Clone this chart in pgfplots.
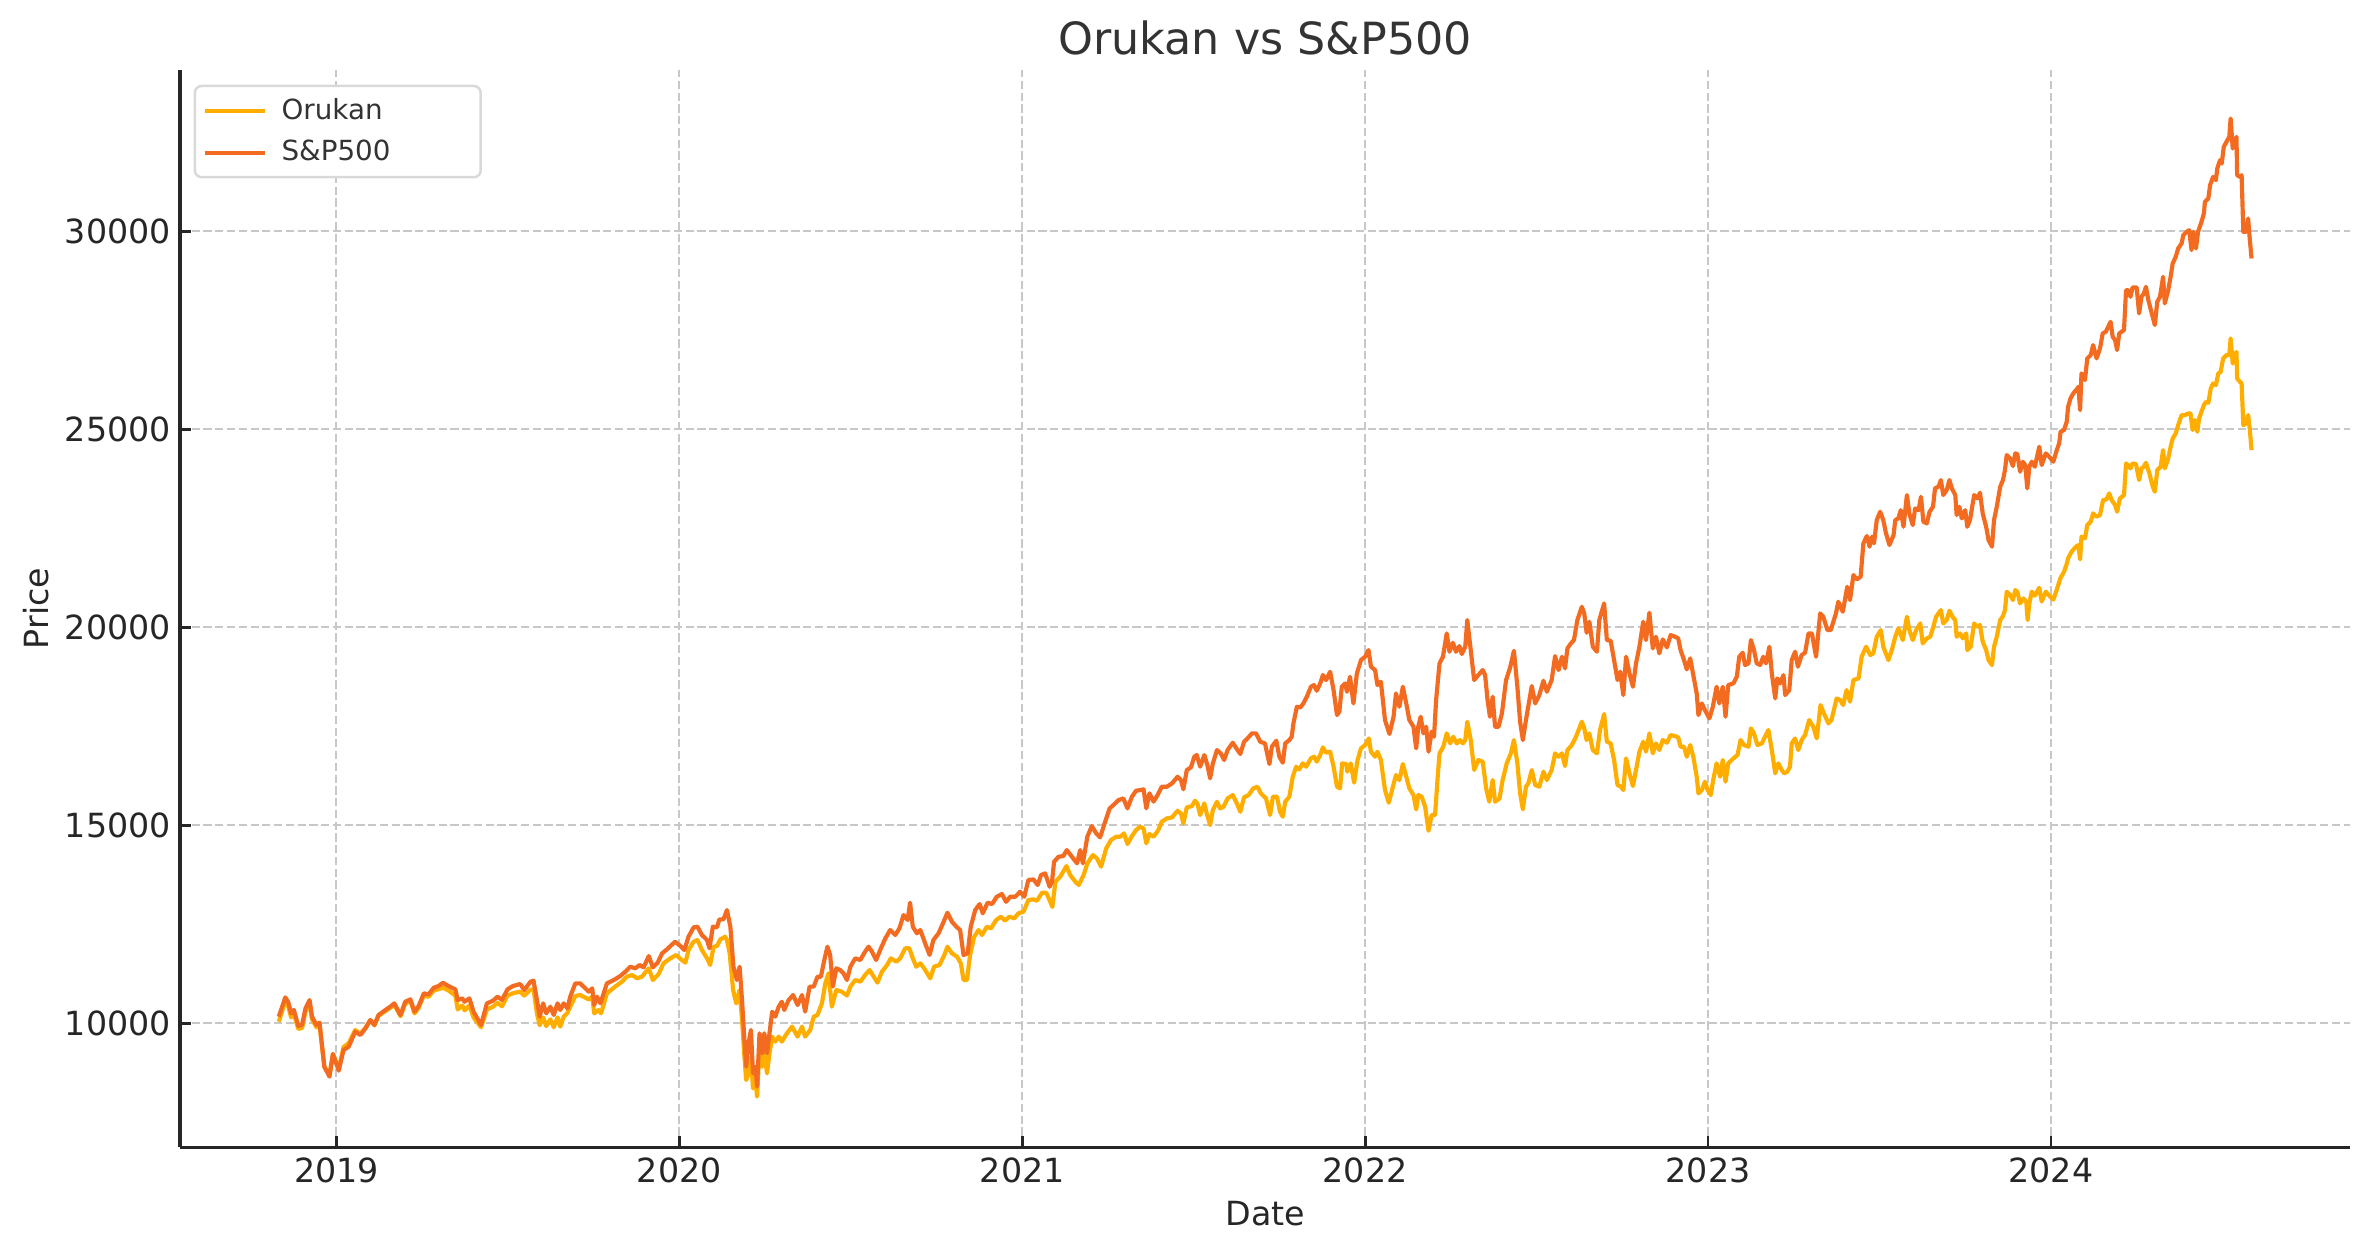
\documentclass[border=0pt]{standalone}
\usepackage{fontspec}
\setmainfont{DejaVu Sans}
\usepackage{pgfplots}
\pgfplotsset{compat=1.18}
\definecolor{orukan}{RGB}{255,174,0}
\definecolor{spx}{RGB}{243,107,33}
\definecolor{gridgray}{RGB}{200,200,200}
\definecolor{spine}{RGB}{38,38,38}
\definecolor{titlegray}{RGB}{51,51,51}
\begin{document}
\begin{tikzpicture}
\begin{axis}[
    name=ax,
    scale only axis,
    width=782.6pt, height=388.6pt,
    xmin=2018.544, xmax=2024.873,
    ymin=6870, ymax=34084,
    axis x line*=bottom, axis y line*=left,
    axis line style={spine, line width=1.1pt},
    xtick={2019,2020,2021,2022,2023,2024},
    ytick={10000,15000,20000,25000,30000},
    scaled y ticks=false,
    /pgf/number format/1000 sep={},
    /pgf/number format/assume math mode=true,
    tick align=inside,
    major tick length=4pt,
    tick style={spine, line width=1pt},
    ticklabel style={font=\fontsize{12}{14.4}\selectfont, text=spine},
    xticklabel style={anchor=center, yshift=-8.4pt},
    yticklabel style={anchor=east, inner xsep=0pt, xshift=-3.1pt},
    xmajorgrids, ymajorgrids,
    major grid style={gridgray, line width=0.8pt, dash pattern=on 2.96pt off 1.28pt},
    title={Orukan vs S\&P500},
    every axis title shift=0pt,
    title style={at={(axis description cs:0.5,1.0293)}, anchor=center, font=\fontsize{16}{19.2}\selectfont, text=titlegray},
    xlabel={Date},
    ylabel={Price},
    xlabel style={at={(axis description cs:0.5,-0.0618)}, anchor=center, font=\fontsize{12}{14.4}\selectfont, text=spine},
    ylabel style={at={(axis description cs:-0.0662,0.5)}, anchor=center, rotate=0, font=\fontsize{12}{14.4}\selectfont, text=spine},
    legend image code/.code={\draw[#1, line width=1.5pt] (0pt,0pt) -- (21.8pt,0pt);},
    legend cell align=left,
    legend style={at={(0,1)}, anchor=north west, xshift=4.9pt, yshift=-5.45pt,
        draw={rgb,255:red,217;green,217;blue,217}, line width=0.9pt, rounded corners=2.5pt,
        fill=white, font=\fontsize{10}{12}\selectfont, text=titlegray,
        inner xsep=2.8pt, inner ysep=2.4pt, row sep=2.1pt, column sep=3.2pt},
    every axis plot/.append style={line width=1.5pt, line join=round},
]
\addplot[orukan] table {
2018.832 10040
2018.837 10170
2018.851 10560
2018.860 10420
2018.868 10150
2018.876 10240
2018.889 9860
2018.900 9880
2018.910 10300
2018.922 10500
2018.929 10100
2018.942 9900
2018.951 9960
2018.965 8900
2018.980 8700
2018.990 9230
2019.007 8850
2019.021 9400
2019.036 9500
2019.055 9830
2019.070 9740
2019.085 9890
2019.099 10080
2019.111 9950
2019.123 10190
2019.143 10310
2019.157 10390
2019.169 10470
2019.187 10180
2019.201 10500
2019.216 10560
2019.228 10250
2019.240 10390
2019.255 10700
2019.269 10670
2019.284 10830
2019.298 10860
2019.311 10900
2019.327 10830
2019.347 10700
2019.354 10350
2019.367 10450
2019.374 10330
2019.388 10450
2019.400 10150
2019.422 9900
2019.439 10350
2019.457 10420
2019.470 10520
2019.483 10430
2019.499 10700
2019.515 10760
2019.536 10800
2019.548 10700
2019.566 10850
2019.575 10860
2019.585 10250
2019.593 9950
2019.603 10150
2019.612 9930
2019.624 10100
2019.634 9900
2019.645 10150
2019.653 9916
2019.663 10170
2019.673 10252
2019.682 10420
2019.697 10690
2019.711 10715
2019.736 10605
2019.746 10673
2019.752 10252
2019.764 10336
2019.772 10252
2019.789 10757
2019.813 10926
2019.833 11052
2019.847 11178
2019.862 11220
2019.877 11136
2019.891 11178
2019.911 11389
2019.923 11094
2019.940 11246
2019.954 11515
2019.974 11641
2019.991 11726
2020.005 11616
2020.018 11532
2020.027 11852
2020.042 12062
2020.053 12104
2020.066 11852
2020.081 11641
2020.090 11473
2020.100 11936
2020.110 11953
2020.120 12121
2020.134 12188
2020.139 12104
2020.147 11768
2020.157 10841
2020.166 10505
2020.176 10841
2020.183 10084
2020.190 9158
2020.195 8568
2020.202 8737
2020.209 9158
2020.215 8359
2020.222 8568
2020.227 8147
2020.234 9410
2020.242 8905
2020.248 9243
2020.256 8737
2020.263 9243
2020.271 9664
2020.280 9537
2020.290 9664
2020.299 9537
2020.314 9748
2020.329 9916
2020.345 9664
2020.358 9916
2020.367 9664
2020.382 9832
2020.392 10168
2020.403 10210
2020.416 10505
2020.426 11010
2020.435 11262
2020.445 10420
2020.458 10841
2020.474 10800
2020.489 10700
2020.499 10926
2020.513 11094
2020.528 11052
2020.542 11220
2020.555 11346
2020.567 11178
2020.578 11027
2020.591 11304
2020.606 11473
2020.617 11641
2020.633 11557
2020.644 11641
2020.659 11894
2020.671 11894
2020.681 11641
2020.691 11430
2020.703 11515
2020.714 11389
2020.732 11136
2020.743 11430
2020.759 11473
2020.773 11726
2020.782 11936
2020.795 11768
2020.810 11683
2020.821 11515
2020.829 11094
2020.839 11094
2020.848 11726
2020.860 12188
2020.873 12356
2020.883 12230
2020.897 12440
2020.909 12398
2020.924 12609
2020.938 12693
2020.950 12593
2020.963 12693
2020.977 12651
2020.989 12777
2021.004 12819
2021.018 13113
2021.032 13130
2021.043 13096
2021.058 13298
2021.070 13298
2021.082 13068
2021.088 12941
2021.097 13576
2021.111 13702
2021.129 13971
2021.140 13744
2021.155 13576
2021.165 13492
2021.179 13744
2021.190 14039
2021.206 14249
2021.218 14165
2021.230 13955
2021.245 14417
2021.259 14628
2021.274 14712
2021.286 14712
2021.297 14796
2021.307 14527
2021.320 14729
2021.332 14880
2021.344 14964
2021.354 14922
2021.362 14545
2021.371 14780
2021.383 14712
2021.397 14880
2021.407 15091
2021.422 15175
2021.437 15200
2021.453 15368
2021.463 15301
2021.470 15049
2021.480 15452
2021.495 15486
2021.504 15620
2021.511 15553
2021.519 15259
2021.531 15553
2021.538 15301
2021.548 15007
2021.556 15385
2021.568 15595
2021.577 15427
2021.587 15469
2021.599 15680
2021.614 15764
2021.626 15553
2021.636 15343
2021.647 15705
2021.660 15764
2021.674 15933
2021.686 15975
2021.696 15806
2021.711 15680
2021.723 15259
2021.731 15722
2021.743 15722
2021.752 15343
2021.760 15217
2021.767 15595
2021.779 15722
2021.789 16227
2021.799 16479
2021.808 16411
2021.818 16565
2021.828 16481
2021.842 16691
2021.851 16733
2021.859 16607
2021.869 16775
2021.877 16969
2021.886 16835
2021.898 16860
2021.908 16481
2021.918 15975
2021.927 15933
2021.933 16565
2021.945 16548
2021.948 16355
2021.958 16565
2021.968 16077
2021.978 16649
2021.988 16944
2022.000 17027
2022.011 17196
2022.017 16860
2022.029 16733
2022.036 16860
2022.046 16649
2022.058 15891
2022.069 15571
2022.081 15975
2022.090 16269
2022.100 16143
2022.110 16548
2022.120 16227
2022.129 15933
2022.141 15764
2022.149 15402
2022.155 15764
2022.165 15722
2022.175 15469
2022.185 14864
2022.194 15259
2022.204 15259
2022.211 16143
2022.217 16817
2022.228 16985
2022.238 17322
2022.248 17069
2022.257 17237
2022.267 17069
2022.277 17153
2022.285 17069
2022.292 17153
2022.298 17616
2022.308 17153
2022.318 16396
2022.330 16649
2022.343 16607
2022.353 15933
2022.362 15596
2022.372 16143
2022.379 15596
2022.392 15680
2022.401 16143
2022.413 16565
2022.425 16817
2022.434 17153
2022.444 16565
2022.452 15806
2022.460 15403
2022.469 15975
2022.476 16060
2022.486 16396
2022.496 16017
2022.508 15975
2022.520 16355
2022.530 16143
2022.544 16396
2022.554 16817
2022.564 16733
2022.574 16817
2022.583 16497
2022.590 16901
2022.603 17027
2022.615 17237
2022.632 17616
2022.639 17448
2022.646 17153
2022.654 17322
2022.664 16901
2022.676 16817
2022.685 17406
2022.697 17810
2022.705 17111
2022.716 17069
2022.726 16649
2022.736 16017
2022.746 15975
2022.753 15891
2022.761 16691
2022.771 16311
2022.781 15992
2022.790 16396
2022.800 16860
2022.811 17111
2022.819 16860
2022.829 17322
2022.839 16817
2022.848 17069
2022.858 16901
2022.868 17153
2022.880 17086
2022.891 17280
2022.904 17254
2022.913 17220
2022.920 16985
2022.930 16985
2022.938 16733
2022.948 17027
2022.957 16733
2022.967 16227
2022.972 15806
2022.982 15891
2022.991 16101
2022.999 15891
2023.008 15764
2023.015 16143
2023.025 16565
2023.035 16227
2023.043 16649
2023.051 16101
2023.059 16565
2023.074 16691
2023.086 16775
2023.095 17153
2023.105 17027
2023.118 16985
2023.125 17448
2023.134 17322
2023.144 17027
2023.157 17069
2023.166 17237
2023.176 17406
2023.186 16901
2023.196 16312
2023.205 16565
2023.215 16396
2023.222 16312
2023.231 16354
2023.239 16480
2023.244 17069
2023.254 17195
2023.263 16901
2023.273 17153
2023.283 17280
2023.295 17658
2023.307 17490
2023.317 17195
2023.328 18037
2023.338 17827
2023.351 17574
2023.360 17658
2023.375 18205
2023.385 18163
2023.394 18036
2023.404 18415
2023.414 18121
2023.424 18668
2023.439 18710
2023.448 19257
2023.461 19510
2023.473 19300
2023.482 19342
2023.492 19762
2023.504 19931
2023.511 19510
2023.526 19173
2023.536 19426
2023.546 19762
2023.555 19973
2023.568 19678
2023.580 20267
2023.587 19931
2023.597 19678
2023.607 19931
2023.619 20099
2023.626 19594
2023.638 19720
2023.648 19762
2023.657 20015
2023.665 20267
2023.679 20436
2023.686 20099
2023.696 20183
2023.704 20419
2023.714 20251
2023.721 20183
2023.725 19762
2023.735 19847
2023.743 19720
2023.753 19847
2023.756 19426
2023.766 19510
2023.776 20099
2023.784 20015
2023.793 20057
2023.801 19636
2023.811 19426
2023.818 19173
2023.828 19047
2023.834 19510
2023.842 19762
2023.852 20183
2023.860 20284
2023.866 20436
2023.871 20898
2023.881 20815
2023.889 20689
2023.896 20941
2023.902 20899
2023.910 20604
2023.920 20730
2023.928 20646
2023.932 20183
2023.937 20604
2023.944 20900
2023.953 20800
2023.966 21000
2023.973 20650
2023.985 20900
2023.995 20800
2024.007 20700
2024.017 20950
2024.028 21250
2024.038 21400
2024.046 21600
2024.050 21741
2024.060 21910
2024.073 22036
2024.080 22078
2024.085 21716
2024.089 22288
2024.099 22246
2024.106 22583
2024.116 22667
2024.123 22877
2024.133 22793
2024.143 22835
2024.152 23213
2024.162 23230
2024.170 23382
2024.177 23213
2024.187 23087
2024.193 22919
2024.201 23255
2024.213 23339
2024.219 24139
2024.225 24097
2024.232 24013
2024.238 24139
2024.248 24122
2024.257 23719
2024.264 24013
2024.271 24055
2024.277 24156
2024.287 23887
2024.297 23550
2024.303 23424
2024.310 23971
2024.320 24055
2024.327 24476
2024.332 24013
2024.342 24266
2024.349 24560
2024.355 24770
2024.364 24897
2024.371 25107
2024.381 25359
2024.391 25359
2024.400 25401
2024.407 25401
2024.413 24981
2024.420 25233
2024.427 24939
2024.432 25275
2024.439 25443
2024.446 25611
2024.452 25696
2024.459 25670
2024.466 26032
2024.473 26158
2024.481 26116
2024.488 26410
2024.495 26452
2024.502 26789
2024.512 26873
2024.520 26873
2024.524 27296
2024.530 26663
2024.536 26831
2024.541 26957
2024.543 26284
2024.551 26200
2024.556 26158
2024.561 25107
2024.569 25149
2024.575 25359
2024.580 24981
2024.585 24476
};
\addlegendentry{\makebox[67pt][l]{Orukan}}
\addplot[spx] table {
2018.832 10167
2018.837 10293
2018.851 10656
2018.860 10530
2018.868 10252
2018.876 10340
2018.889 9932
2018.900 9960
2018.910 10378
2018.922 10589
2018.929 10168
2018.942 9960
2018.951 10017
2018.965 8905
2018.980 8653
2018.990 9225
2019.007 8804
2019.021 9326
2019.036 9410
2019.055 9789
2019.070 9705
2019.085 9873
2019.099 10083
2019.111 9957
2019.123 10210
2019.143 10336
2019.157 10420
2019.169 10505
2019.187 10210
2019.201 10546
2019.216 10605
2019.228 10294
2019.240 10437
2019.255 10757
2019.269 10732
2019.284 10899
2019.298 10942
2019.311 11025
2019.327 10942
2019.347 10858
2019.354 10589
2019.367 10630
2019.374 10546
2019.388 10630
2019.400 10294
2019.422 9957
2019.439 10504
2019.457 10572
2019.470 10673
2019.483 10589
2019.499 10858
2019.515 10942
2019.536 10993
2019.548 10842
2019.566 11051
2019.575 11077
2019.585 10589
2019.593 10168
2019.603 10505
2019.612 10252
2019.624 10420
2019.634 10210
2019.645 10505
2019.653 10336
2019.663 10505
2019.674 10378
2019.682 10673
2019.697 11010
2019.711 11010
2019.726 10884
2019.736 10800
2019.746 10884
2019.752 10462
2019.760 10673
2019.770 10505
2019.789 11010
2019.809 11094
2019.828 11195
2019.843 11304
2019.857 11430
2019.872 11389
2019.884 11473
2019.896 11414
2019.911 11699
2019.923 11414
2019.937 11532
2019.950 11768
2019.964 11869
2019.988 12062
2020.003 11953
2020.015 11852
2020.027 12188
2020.042 12424
2020.053 12441
2020.066 12230
2020.081 12104
2020.088 11894
2020.098 12441
2020.110 12424
2020.117 12626
2020.129 12626
2020.139 12861
2020.149 12441
2020.158 11430
2020.168 11094
2020.176 11430
2020.183 10589
2020.190 9579
2020.195 8905
2020.202 9495
2020.209 9832
2020.215 8737
2020.222 8905
2020.227 8400
2020.234 9748
2020.242 9243
2020.248 9748
2020.256 9243
2020.263 9748
2020.271 10294
2020.280 10168
2020.290 10420
2020.299 10546
2020.306 10336
2020.319 10589
2020.332 10715
2020.345 10462
2020.358 10715
2020.367 10294
2020.380 10926
2020.392 10926
2020.403 11178
2020.413 11178
2020.423 11599
2020.432 11936
2020.440 11726
2020.448 10926
2020.458 11389
2020.469 11347
2020.479 11262
2020.489 11094
2020.499 11430
2020.513 11641
2020.528 11599
2020.539 11768
2020.552 11936
2020.562 11810
2020.574 11599
2020.588 11894
2020.601 12146
2020.615 12356
2020.630 12230
2020.642 12398
2020.654 12735
2020.666 12609
2020.673 13046
2020.681 12440
2020.693 12272
2020.703 12356
2020.717 12020
2020.730 11726
2020.741 12104
2020.756 12272
2020.769 12525
2020.782 12794
2020.795 12567
2020.808 12440
2020.819 12356
2020.829 11726
2020.841 11768
2020.850 12440
2020.863 12861
2020.876 13012
2020.885 12777
2020.899 13046
2020.912 13012
2020.926 13197
2020.941 13265
2020.953 13068
2020.965 13197
2020.980 13197
2020.994 13323
2021.006 13197
2021.018 13618
2021.033 13635
2021.045 13492
2021.055 13744
2021.067 13786
2021.080 13450
2021.087 13576
2021.093 14081
2021.106 14207
2021.120 14224
2021.130 14375
2021.145 14207
2021.160 14039
2021.169 14375
2021.177 14039
2021.190 14712
2021.203 14981
2021.216 14796
2021.227 14695
2021.242 15091
2021.255 15428
2021.266 15512
2021.281 15638
2021.295 15680
2021.307 15428
2021.320 15722
2021.332 15873
2021.344 15891
2021.354 15908
2021.362 15429
2021.371 15808
2021.383 15598
2021.395 15766
2021.407 15975
2021.422 15975
2021.437 16060
2021.453 16227
2021.463 16143
2021.470 15908
2021.480 16396
2021.492 16463
2021.502 16733
2021.509 16775
2021.519 16481
2021.531 16775
2021.540 16523
2021.548 16186
2021.556 16565
2021.568 16901
2021.579 16817
2021.589 16649
2021.599 16901
2021.614 17086
2021.628 16901
2021.636 16800
2021.647 17111
2021.657 17195
2021.670 17322
2021.682 17322
2021.694 17111
2021.708 17069
2021.721 16547
2021.728 16985
2021.741 17136
2021.750 16733
2021.760 16582
2021.767 17069
2021.779 17153
2021.786 17237
2021.791 17575
2021.801 17994
2021.811 17977
2021.820 18078
2021.830 18247
2021.842 18499
2021.851 18541
2021.859 18398
2021.869 18583
2021.877 18795
2021.886 18667
2021.898 18878
2021.908 18415
2021.918 17785
2021.925 17869
2021.932 18499
2021.942 18583
2021.947 18373
2021.956 18751
2021.966 18078
2021.976 18836
2021.988 19174
2022.000 19258
2022.010 19426
2022.017 19005
2022.029 18921
2022.036 18541
2022.046 18625
2022.058 17658
2022.071 17305
2022.083 17743
2022.090 18331
2022.100 17994
2022.110 18499
2022.120 18078
2022.129 17658
2022.141 17490
2022.149 16944
2022.155 17490
2022.162 17743
2022.170 17322
2022.178 17490
2022.185 16860
2022.194 17364
2022.201 17237
2022.207 18163
2022.217 19089
2022.227 19257
2022.238 19847
2022.246 19384
2022.256 19610
2022.265 19384
2022.275 19527
2022.282 19325
2022.292 19510
2022.298 20183
2022.308 19426
2022.318 18668
2022.330 18794
2022.343 18920
2022.350 18794
2022.357 18163
2022.364 17742
2022.372 18247
2022.379 17489
2022.389 17489
2022.399 17826
2022.411 18668
2022.423 18988
2022.434 19408
2022.444 18499
2022.452 17616
2022.460 17153
2022.469 17658
2022.476 18011
2022.486 18516
2022.496 18078
2022.508 18289
2022.520 18651
2022.530 18373
2022.544 18668
2022.554 19274
2022.564 18920
2022.574 19257
2022.583 18962
2022.590 19468
2022.600 19594
2022.609 19678
2022.619 20183
2022.632 20519
2022.639 20351
2022.646 19863
2022.654 20141
2022.664 19510
2022.676 19384
2022.683 20183
2022.697 20604
2022.705 19678
2022.716 19661
2022.726 19174
2022.736 18668
2022.744 18878
2022.753 18289
2022.761 19258
2022.771 18836
2022.781 18499
2022.790 19089
2022.800 19510
2022.811 20141
2022.819 19678
2022.829 20368
2022.839 19468
2022.848 19762
2022.858 19342
2022.868 19695
2022.880 19493
2022.891 19804
2022.904 19762
2022.913 19720
2022.920 19426
2022.930 19174
2022.938 18938
2022.948 19216
2022.957 18794
2022.967 18331
2022.972 17785
2022.982 18078
2022.991 17910
2023.004 17700
2023.014 17994
2023.025 18499
2023.033 18078
2023.043 18499
2023.051 17743
2023.059 18541
2023.074 18586
2023.084 18753
2023.091 19257
2023.101 19358
2023.108 19047
2023.118 19089
2023.125 19678
2023.134 19426
2023.142 19089
2023.152 19047
2023.161 19257
2023.169 19089
2023.179 19510
2023.186 18836
2023.196 18205
2023.202 18710
2023.210 18583
2023.220 18794
2023.225 18289
2023.237 18415
2023.244 19173
2023.254 19384
2023.262 19005
2023.273 19300
2023.283 19358
2023.293 19847
2023.303 19847
2023.315 19257
2023.327 20352
2023.336 20268
2023.348 19931
2023.358 19931
2023.373 20352
2023.380 20646
2023.393 20394
2023.406 21025
2023.414 20689
2023.424 21320
2023.434 21210
2023.445 21278
2023.453 22120
2023.463 22305
2023.471 22036
2023.478 22288
2023.484 22120
2023.492 22708
2023.502 22918
2023.511 22708
2023.519 22372
2023.529 22078
2023.541 22330
2023.546 22708
2023.555 22750
2023.562 22960
2023.570 22540
2023.580 23340
2023.587 22876
2023.597 22582
2023.604 23002
2023.614 22960
2023.621 23297
2023.628 22666
2023.638 22624
2023.646 22918
2023.656 23044
2023.662 23509
2023.672 23550
2023.679 23719
2023.686 23340
2023.696 23466
2023.704 23719
2023.711 23508
2023.721 23340
2023.725 22834
2023.733 23044
2023.740 22750
2023.750 22960
2023.756 22540
2023.764 22708
2023.776 23340
2023.786 23256
2023.793 23400
2023.801 22876
2023.811 22540
2023.818 22204
2023.828 22036
2023.834 22708
2023.842 23044
2023.852 23550
2023.860 23719
2023.866 23971
2023.871 24350
2023.881 24266
2023.889 24072
2023.896 24392
2023.902 24375
2023.910 23929
2023.918 24181
2023.925 24097
2023.931 23508
2023.937 24055
2023.944 24182
2023.953 24055
2023.966 24560
2023.973 24097
2023.985 24392
2023.995 24308
2024.007 24182
2024.017 24476
2024.024 24644
2024.028 24938
2024.038 24980
2024.046 25191
2024.050 25570
2024.057 25780
2024.065 25906
2024.075 26007
2024.080 26074
2024.085 25485
2024.089 26413
2024.099 26244
2024.106 26791
2024.116 26875
2024.123 27127
2024.133 26791
2024.143 27043
2024.151 27422
2024.160 27464
2024.167 27590
2024.174 27716
2024.180 27338
2024.187 27254
2024.193 27001
2024.199 27422
2024.213 27506
2024.219 28515
2024.225 28515
2024.232 28347
2024.238 28582
2024.250 28582
2024.257 27927
2024.264 28347
2024.271 28431
2024.277 28599
2024.284 28263
2024.294 27927
2024.303 27632
2024.310 28221
2024.318 28347
2024.327 28852
2024.332 28179
2024.342 28515
2024.349 28852
2024.355 29189
2024.364 29357
2024.371 29567
2024.381 29693
2024.386 29904
2024.396 29988
2024.403 30030
2024.410 29525
2024.415 29988
2024.423 29567
2024.429 29988
2024.439 30240
2024.446 30450
2024.449 30745
2024.459 30829
2024.464 31165
2024.473 31375
2024.481 31291
2024.485 31586
2024.493 31796
2024.498 31712
2024.504 32134
2024.512 32260
2024.520 32386
2024.524 32849
2024.530 32092
2024.536 32260
2024.541 32386
2024.543 31418
2024.551 31375
2024.556 31418
2024.561 29988
2024.569 29988
2024.575 30324
2024.580 29778
2024.585 29315
};
\addlegendentry{\makebox[67pt][l]{S\&P500}}
\end{axis}
\pgfresetboundingbox
\path[use as bounding box] ([xshift=-64.9pt,yshift=-38.7pt]ax.south west) rectangle ([xshift=7.1pt,yshift=25.1pt]ax.north east);
\end{tikzpicture}
\end{document}
